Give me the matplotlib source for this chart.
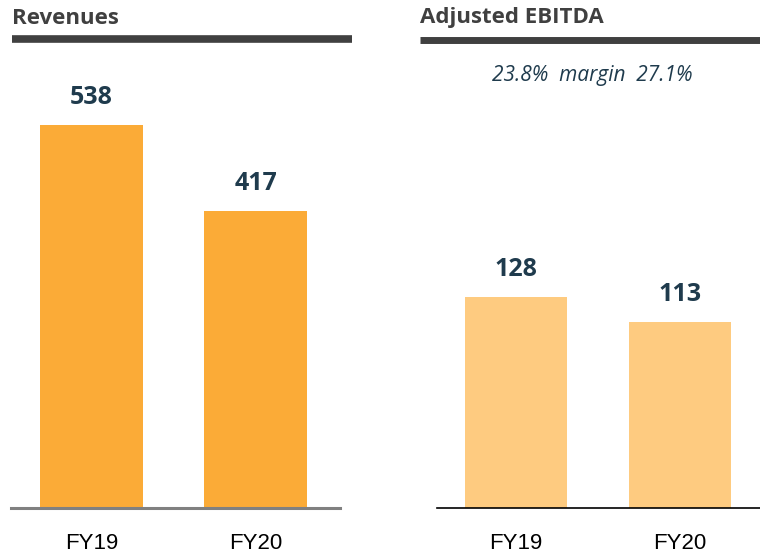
import matplotlib.pyplot as plt
from matplotlib.lines import Line2D

years = ["FY19", "FY20"]
revenues = [538, 417]
ebitda = [128, 113]
margins = ["23.8%", "27.1%"]

W, H = 760, 558
fig = plt.figure(figsize=(W / 100, H / 100), dpi=100)

def px_axes(x0, x1, ytop, ybot):
    # figure-pixel box -> axes
    return fig.add_axes([x0 / W, 1 - ybot / H, (x1 - x0) / W, (ybot - ytop) / H])

num_color = "#1f3b4d"
head_color = "#404040"

# left panel
ax1 = px_axes(11, 340, 60, 508)
ax1.bar([0, 1], revenues, width=0.628, color="#fbab37")
ax1.set_xlim(-0.491, 1.515)
ax1.set_ylim(0, 629)

# right panel
ax2 = px_axes(437, 760, 60, 508)
ax2.bar([0, 1], ebitda, width=0.622, color="#fecb80")
ax2.set_xlim(-0.482, 1.488)
ax2.set_ylim(0, 272)

for ax, vals, lc, lw in [(ax1, revenues, "#808080", 2.2), (ax2, ebitda, "black", 1.2)]:
    for s in ["top", "right", "left"]:
        ax.spines[s].set_visible(False)
    ax.spines["bottom"].set_color(lc)
    ax.spines["bottom"].set_linewidth(lw)
    ax.set_yticks([])
    ax.set_xticks([0, 1])
    ax.set_xticklabels(years, family="Liberation Sans", fontsize=16)
    ax.tick_params(axis="x", length=0, pad=18)
    for i, v in enumerate(vals):
        ax.annotate(str(v), (i, v), xytext=(0, 20), textcoords="offset points",
                    ha="center", va="center", fontsize=18, fontweight="bold",
                    color=num_color, family="Open Sans")

# headers
fig.text(12 / W, 1 - 18 / H, "Revenues", ha="left", va="center", fontsize=16,
         fontweight="bold", color=head_color, family="Open Sans")
fig.text(420 / W, 1 - 18 / H, "Adjusted EBITDA", ha="left", va="center", fontsize=16,
         fontweight="bold", color=head_color, family="Open Sans")
fig.add_artist(Line2D([12 / W, 352 / W], [1 - 39 / H] * 2, color=head_color, lw=5.5,
                      transform=fig.transFigure, solid_capstyle="butt"))
fig.add_artist(Line2D([420 / W, 760 / W], [1 - 40 / H] * 2, color=head_color, lw=5,
                      transform=fig.transFigure, solid_capstyle="butt"))

fig.text(592 / W, 1 - 76 / H, margins[0] + "  margin  " + margins[1], ha="center", va="center",
         fontsize=15, style="italic", color=num_color, family="Open Sans")

fig.savefig("out.png", dpi=100)
